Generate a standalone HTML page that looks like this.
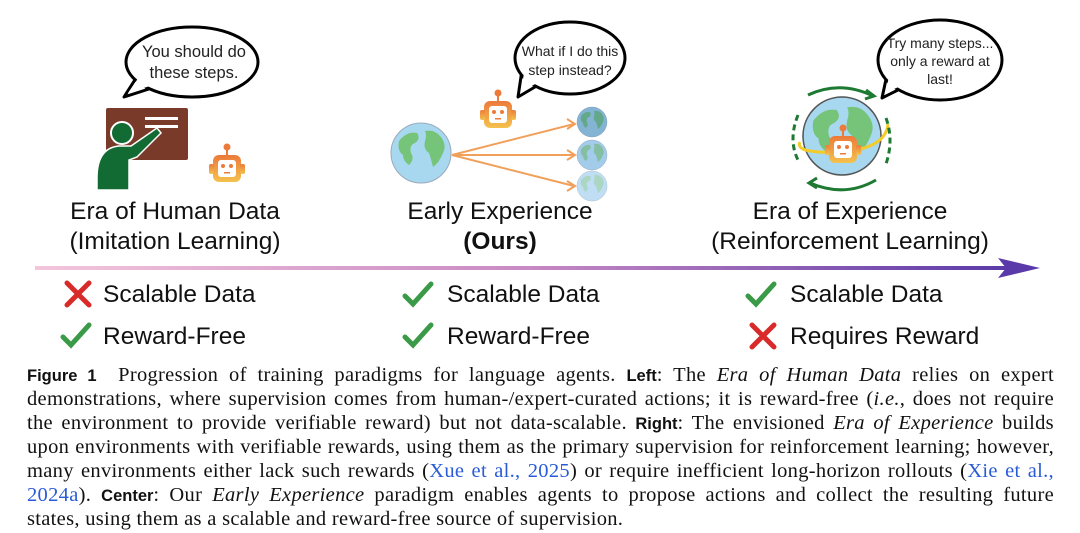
<!DOCTYPE html>
<html><head><meta charset="utf-8"><style>
html,body{margin:0;padding:0;background:#fff;}
body{width:1080px;height:533px;position:relative;overflow:hidden;font-family:"Liberation Sans",sans-serif;}
.cap{position:absolute;left:27px;width:1027px;font-family:"Liberation Serif",serif;font-size:20.5px;letter-spacing:0.3px;color:#111;}
.cap div{height:24px;line-height:24px;text-align:justify;text-align-last:justify;white-space:nowrap;}
.cap div.l{text-align-last:left;}
.cap b{font-family:"Liberation Sans",sans-serif;font-weight:bold;font-size:16.5px;letter-spacing:0;}
.cap a{color:#2a5bd7;text-decoration:none;}
.t{position:absolute;font-size:24.5px;color:#111;text-align:center;white-space:nowrap;}
</style></head><body>
<svg width="1080" height="360" style="position:absolute;left:0;top:0" font-family="Liberation Sans, sans-serif">
<defs>
<linearGradient id="ar" x1="0" x2="1"><stop offset="0" stop-color="#f3c6dc"/><stop offset="0.5" stop-color="#c98ac4"/><stop offset="1" stop-color="#5a3aa8"/></linearGradient>
<linearGradient id="rb" x1="0" y1="0" x2="0" y2="1"><stop offset="0" stop-color="#ec7a3a"/><stop offset="1" stop-color="#f4c24e"/></linearGradient>
<g id="robot">
<circle cx="0" cy="-20" r="3.5" fill="#ec7a3a"/><rect x="-1" y="-18" width="2" height="6" fill="#ec7a3a"/>
<rect x="-14" y="-12" width="28" height="27" rx="6" fill="url(#rb)"/>
<rect x="-18" y="-3" width="5" height="10" rx="2" fill="url(#rb)"/><rect x="13" y="-3" width="5" height="10" rx="2" fill="url(#rb)"/>
<rect x="-9" y="-7" width="18" height="17" rx="3" fill="#fff"/>
<circle cx="-4" cy="-1" r="2" fill="#ec7a3a"/><circle cx="4" cy="-1" r="2" fill="#ec7a3a"/><rect x="-3" y="5" width="6" height="1.5" fill="#ec7a3a"/>
</g>
<g id="globe"><circle r="30" fill="#a8d8f0" stroke="#9ab" stroke-width="1"/>
<path d="M-22,-12 q8,-10 18,-8 q4,6 -2,10 q-6,2 -4,10 q4,6 -2,12 q-6,-4 -6,-10 q-6,-4 -4,-14z M4,-22 q10,-2 16,6 q6,8 2,16 q-4,10 -10,14 q-2,-8 -4,-14 q-6,-4 -4,-12 q2,-6 0,-10z" fill="#76c47a"/></g>
</defs>
<!-- left bubble -->
<path d="M124,97 L138,75 L152,88 Z" fill="#fff" stroke="#000" stroke-width="3" stroke-linejoin="round"/>
<ellipse cx="192" cy="62" rx="66" ry="35" fill="#fff" stroke="#000" stroke-width="3"/>
<path d="M128,93 L139,77 L150,86 Z" fill="#fff"/>
<text x="194" y="57" font-size="16.5" text-anchor="middle" fill="#222">You should do</text>
<text x="194" y="78" font-size="16.5" text-anchor="middle" fill="#222">these steps.</text>
<!-- board & teacher -->
<rect x="106" y="108" width="82" height="52" rx="2" fill="#7a3a2a"/>
<rect x="145" y="117" width="33" height="3" fill="#fff"/><rect x="145" y="125" width="33" height="3" fill="#fff"/>
<path d="M97,178 q0,-30 22,-32 l12,0 l26,-18 l4,5 l-24,24 l-8,3 l0,30 l-32,0z" fill="#126b33" stroke="#fff" stroke-width="1.5"/>
<circle cx="122" cy="133" r="11" fill="#126b33" stroke="#fff" stroke-width="2"/>
<use href="#robot" x="227" y="167"/>
<!-- middle -->
<path d="M518,97 L522,70 L540,84 Z" fill="#fff" stroke="#000" stroke-width="3" stroke-linejoin="round"/>
<ellipse cx="570" cy="58" rx="55" ry="36" fill="#fff" stroke="#000" stroke-width="3"/>
<path d="M521,92 L524,73 L537,83 Z" fill="#fff"/>
<text x="570" y="56" font-size="14" text-anchor="middle" fill="#222">What if I do this</text>
<text x="570" y="75" font-size="14" text-anchor="middle" fill="#222">step instead?</text>
<use href="#robot" x="498" y="113"/>
<use href="#globe" x="421" y="153"/>
<g fill="none" stroke="#f0a05a" stroke-width="2">
<path d="M452,155 Q510,140 574,124"/><path d="M452,155 L574,155"/><path d="M452,155 Q510,170 574,186"/>
<path d="M567,119 l8,5 -8,5 M567,150 l8,5 -8,5 M567,181 l8,5 -8,5"/></g>
<g transform="translate(592,122) scale(0.5)"><use href="#globe"/></g>
<circle cx="592" cy="122" r="15" fill="#4a7fa8" opacity="0.4"/>
<g transform="translate(592,155) scale(0.5)"><use href="#globe"/></g>
<circle cx="592" cy="155" r="15" fill="#9ab8e0" opacity="0.4"/>
<g transform="translate(592,186) scale(0.5)"><use href="#globe"/></g>
<circle cx="592" cy="186" r="15" fill="#cfe3f5" opacity="0.6"/>
<!-- right -->
<path d="M882,98 L888,70 L906,86 Z" fill="#fff" stroke="#000" stroke-width="3" stroke-linejoin="round"/>
<ellipse cx="940" cy="60" rx="62" ry="40" fill="#fff" stroke="#000" stroke-width="3"/>
<path d="M885,93 L890,73 L903,85 Z" fill="#fff"/>
<text x="940" y="48" font-size="14" text-anchor="middle" fill="#222">Try many steps...</text>
<text x="940" y="66" font-size="14" text-anchor="middle" fill="#222">only a reward at</text>
<text x="940" y="84" font-size="14" text-anchor="middle" fill="#222">last!</text>
<g transform="translate(842,136) scale(1.3)"><use href="#globe"/></g>
<circle cx="842" cy="136" r="39" fill="none" stroke="#555" stroke-width="1.5"/>
<path d="M800,142 q-6,12 42,10 q44,-4 46,-28" fill="none" stroke="#f2cc2a" stroke-width="3"/>
<g fill="none" stroke="#1e7a32" stroke-width="3">
<path d="M808,95 Q840,80 873,96" /><path d="M866,90 l8,6 -9,3"/>
<path d="M876,180 Q845,198 810,183"/><path d="M817,178 l-8,5 8,5"/>
<path d="M798,115 Q788,140 798,160" stroke-dasharray="6,4"/><path d="M886,118 Q894,140 886,164" stroke-dasharray="6,4"/>
</g>
<use href="#robot" x="843" y="148"/>
<!-- arrow -->
<rect x="35" y="266" width="975" height="4" fill="url(#ar)"/>
<path d="M998,258 L1040,268 L998,278 L1006,268Z" fill="#5a3aa8"/>
<!-- marks -->
<g stroke-width="5" stroke-linecap="round" fill="none">
<path d="M67,283 l22,22 M89,283 l-22,22" stroke="#d92a2a"/>
<path d="M63,337 l8,8 l18,-20" stroke="#3a9a48"/>
<path d="M405,296 l8,8 l18,-20" stroke="#3a9a48"/>
<path d="M405,337 l8,8 l18,-20" stroke="#3a9a48"/>
<path d="M748,296 l8,8 l18,-20" stroke="#3a9a48"/>
<path d="M752,325 l22,22 M774,325 l-22,22" stroke="#d92a2a"/>
</g>
</svg>
<div class="t" style="left:25px;width:300px;top:198px">Era of Human Data</div>
<div class="t" style="left:25px;width:300px;top:228px">(Imitation Learning)</div>
<div class="t" style="left:350px;width:300px;top:198px">Early Experience</div>
<div class="t" style="left:350px;width:300px;top:228px;font-weight:bold">(Ours)</div>
<div class="t" style="left:680px;width:340px;top:198px">Era of Experience</div>
<div class="t" style="left:680px;width:340px;top:228px">(Reinforcement Learning)</div>
<div class="t" style="left:103px;top:281px">Scalable Data</div>
<div class="t" style="left:103px;top:323px">Reward-Free</div>
<div class="t" style="left:447px;top:281px">Scalable Data</div>
<div class="t" style="left:447px;top:323px">Reward-Free</div>
<div class="t" style="left:790px;top:281px">Scalable Data</div>
<div class="t" style="left:790px;top:323px">Requires Reward</div>
<div class="cap" style="top:363px">
<div><b>Figure 1</b>&nbsp; Progression of training paradigms for language agents. <b>Left</b>: The <i>Era of Human Data</i> relies on expert</div>
<div>demonstrations, where supervision comes from human-/expert-curated actions; it is reward-free (<i>i.e.</i>, does not require</div>
<div>the environment to provide verifiable reward) but not data-scalable. <b>Right</b>: The envisioned <i>Era of Experience</i> builds</div>
<div>upon environments with verifiable rewards, using them as the primary supervision for reinforcement learning; however,</div>
<div>many environments either lack such rewards (<a>Xue et al., 2025</a>) or require inefficient long-horizon rollouts (<a>Xie et al.,</a></div>
<div><a>2024a</a>). <b>Center</b>: Our <i>Early Experience</i> paradigm enables agents to propose actions and collect the resulting future</div>
<div class="l">states, using them as a scalable and reward-free source of supervision.</div>
</div>
</body></html>
